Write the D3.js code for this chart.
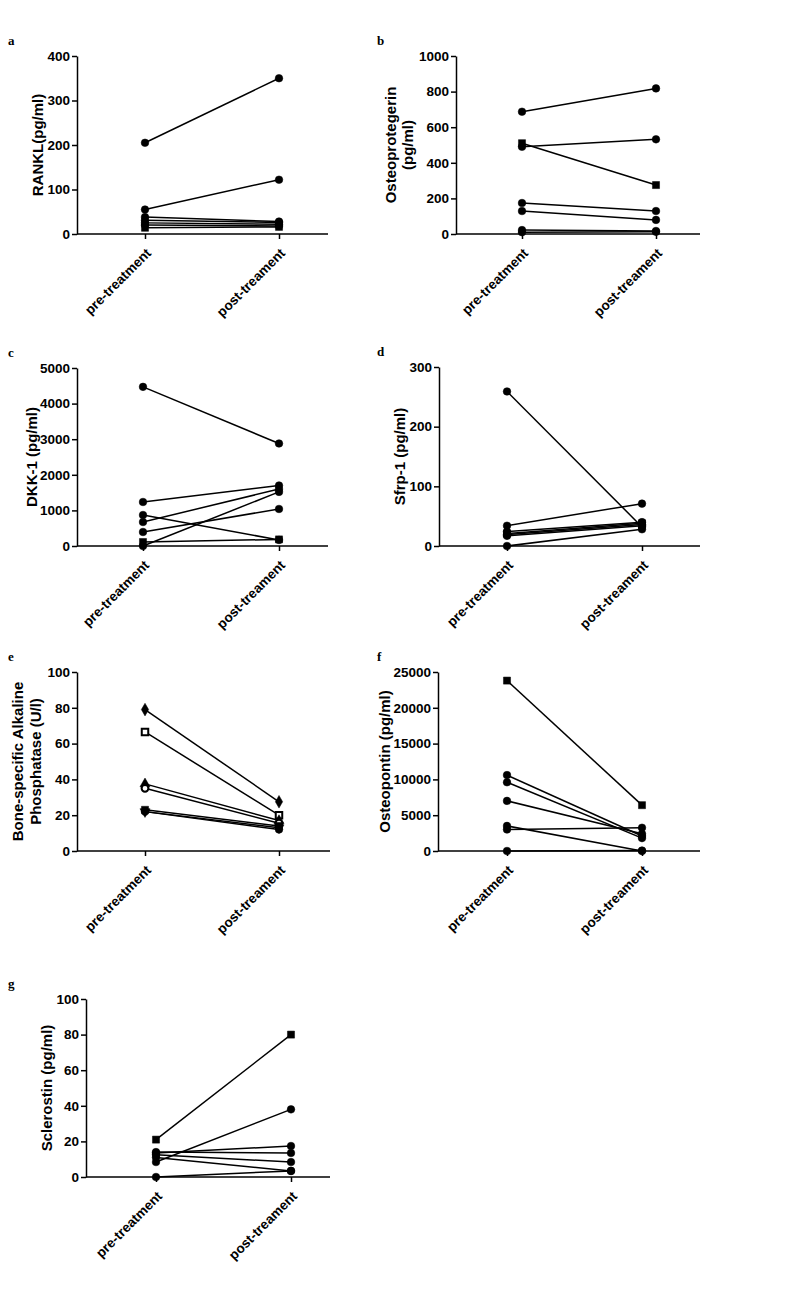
<!DOCTYPE html>
<html><head><meta charset="utf-8">
<script src="https://cdn.jsdelivr.net/npm/d3@7"></script>
<style>
body{margin:0;background:#fff}
text{font-family:"Liberation Sans",Arial,sans-serif;font-weight:bold;fill:#000}
</style>
</head><body>
<svg id="chart" width="800" height="1310"></svg>
<script>
// ---------- data ----------
const categories = ["pre-treatment", "post-treament"];

const ranklPre  = [205, 55, 38, 31, 25, 20, 14];
const ranklPost = [350, 122, 28, 26, 22, 18, 16];
const ranklShapes = ["circle","circle","circle","circle","circle","circle","square"];
const ranklTicks = [0, 100, 200, 300, 400];

const opgPre  = [687, 510, 490, 174, 129, 22, 10];
const opgPost = [818, 275, 532, 129, 79, 17, 12];
const opgShapes = ["circle","square","circle","circle","circle","circle","circle"];
const opgTicks = [0, 200, 400, 600, 800, 1000];

const dkkPre  = [4470, 1236, 870, 674, 393, 112, 0];
const dkkPost = [2880, 1700, 170, 1600, 1040, 185, 1520];
const dkkShapes = ["circle","circle","circle","circle","circle","square","circle"];
const dkkTicks = [0, 1000, 2000, 3000, 4000, 5000];

const sfrpPre  = [259, 34, 24, 21, 19, 17, 0];
const sfrpPost = [32, 71, 40, 38, 36, 34, 28];
const sfrpShapes = ["circle","circle","circle","square","circle","circle","circle"];
const sfrpTicks = [0, 100, 200, 300];

const bsapPre  = [79, 66.5, 37.5, 35, 23, 22, 22];
const bsapPost = [27.5, 20, 17, 15.5, 14, 13, 12];
const bsapShapes = ["diamond","opensquare","triangle","opencircle","square","triangledown","circle"];
const bsapTicks = [0, 20, 40, 60, 80, 100];

const opnPre  = [23800, 10600, 9600, 7000, 3500, 3000, 0];
const opnPost = [6400, 2100, 1800, 2400, 0, 3250, 60];
const opnShapes = ["square","circle","circle","circle","circle","circle","circle"];
const opnTicks = [0, 5000, 10000, 15000, 20000, 25000];

const sostPre  = [21, 8.4, 13.5, 14, 12.5, 11, 0];
const sostPost = [80, 38, 17.4, 13.5, 8.4, 3.4, 3.4];
const sostShapes = ["square","circle","circle","circle","circle","circle","circle"];
const sostTicks = [0, 20, 40, 60, 80, 100];

// ---------- layout ----------
const panels = [
  {label:"a", lx:8,   title:["RANKL(pg/ml)"], tx:[38], ax:77, top:56, bottom:234, px:145, qx:279, ex:328, pre:ranklPre, post:ranklPost, shapes:ranklShapes, ticks:ranklTicks},
  {label:"b", lx:377, title:["Osteoprotegerin","(pg/ml)"], tx:[391,408], ax:456, top:56, bottom:234, px:522, qx:656, ex:700, pre:opgPre, post:opgPost, shapes:opgShapes, ticks:opgTicks},
  {label:"c", lx:8,   title:["DKK-1 (pg/ml)"], tx:[32], ax:77, top:368, bottom:546, px:143, qx:279, ex:328, pre:dkkPre, post:dkkPost, shapes:dkkShapes, ticks:dkkTicks},
  {label:"d", lx:377, title:["Sfrp-1 (pg/ml)"], tx:[400], ax:439, top:367, bottom:546, px:507, qx:642, ex:700, pre:sfrpPre, post:sfrpPost, shapes:sfrpShapes, ticks:sfrpTicks},
  {label:"e", lx:8,   title:["Bone-specific Alkaline","Phosphatase (U/l)"], tx:[18,36], ax:77, top:672, bottom:851, px:145, qx:279, ex:330, pre:bsapPre, post:bsapPost, shapes:bsapShapes, ticks:bsapTicks},
  {label:"f", lx:377, title:["Osteopontin (pg/ml)"], tx:[385], ax:438, top:672, bottom:851, px:507, qx:642, ex:700, pre:opnPre, post:opnPost, shapes:opnShapes, ticks:opnTicks},
  {label:"g", lx:8,   title:["Sclerostin (pg/ml)"], tx:[47], ax:86, top:999, bottom:1177, px:156, qx:291, ex:330, pre:sostPre, post:sostPost, shapes:sostShapes, ticks:sostTicks}
];

const svg = d3.select("#chart");

function symbolFor(s){
  const map = {circle:d3.symbolCircle, opencircle:d3.symbolCircle, square:d3.symbolSquare, opensquare:d3.symbolSquare,
               diamond:d3.symbolDiamond, triangle:d3.symbolTriangle, triangledown:d3.symbolTriangle};
  const size = {circle:46, opencircle:36, square:50, opensquare:42, diamond:46, triangle:44, triangledown:44};
  return d3.symbol().type(map[s]).size(size[s])();
}

panels.forEach(p => {
  const g = svg.append("g");
  const x = d3.scalePoint().domain(categories).range([p.px, p.qx]);
  const y = d3.scaleLinear().domain([0, d3.max(p.ticks)]).range([p.bottom, p.top]);

  // panel letter
  g.append("text").attr("x", p.lx).attr("y", p.top - 11)
    .style("font-family", '"Liberation Serif", "Times New Roman", serif')
    .style("font-size", "13px").text(p.label);

  // y axis
  const yAxis = d3.axisLeft(y).tickValues(p.ticks).tickSize(5).tickSizeOuter(0).tickPadding(2).tickFormat(d3.format("d"));
  const ya = g.append("g").attr("transform", `translate(${p.ax},0)`).call(yAxis);
  ya.select(".domain").attr("stroke", "#000").attr("stroke-width", 1.5);
  ya.selectAll(".tick line").attr("stroke", "#000").attr("stroke-width", 1.5);
  ya.selectAll(".tick text").style("font-size", "13.5px").style("font-family", '"Liberation Sans", Arial, sans-serif').style("font-weight","bold");

  // x axis
  const xAxis = d3.axisBottom(x).tickSize(5).tickSizeOuter(0).tickFormat(() => "");
  const xa = g.append("g").attr("transform", `translate(0,${p.bottom})`).call(xAxis);
  xa.select(".domain").remove();
  xa.selectAll(".tick line").attr("stroke", "#000").attr("stroke-width", 1.5);
  g.append("line").attr("x1", p.ax).attr("x2", p.ex).attr("y1", p.bottom).attr("y2", p.bottom)
    .attr("stroke", "#000").attr("stroke-width", 1.5);
  categories.forEach(c => {
    g.append("text")
      .attr("transform", `translate(${x(c) + 7},${p.bottom + 20}) rotate(-45)`)
      .attr("text-anchor", "end")
      .style("font-size", "13.5px")
      .text(c);
  });

  // y title
  p.title.forEach((t, i) => {
    g.append("text")
      .attr("transform", `translate(${p.tx[i]},${(p.top + p.bottom) / 2}) rotate(-90)`)
      .attr("text-anchor", "middle").attr("dy", "0.36em")
      .style("font-size", "15px")
      .text(t);
  });

  // subject lines
  const line = d3.line().x(d => x(d[0])).y(d => y(d[1]));
  p.pre.forEach((v, i) => {
    g.append("path").datum([[categories[0], v], [categories[1], p.post[i]]])
      .attr("d", line).attr("fill", "none").attr("stroke", "#000").attr("stroke-width", 1.5);
  });
  // markers
  p.pre.forEach((v, i) => {
    const s = p.shapes[i];
    [[categories[0], v], [categories[1], p.post[i]]].forEach(d => {
      let rot = s === "triangledown" ? " rotate(180)" : "";
      g.append("path").attr("d", symbolFor(s))
        .attr("transform", `translate(${x(d[0])},${y(d[1])})${rot}`)
        .attr("fill", s.startsWith("open") ? "#fff" : "#000")
        .attr("stroke", "#000").attr("stroke-width", s.startsWith("open") ? 2 : 0.5);
    });
  });
});
</script>
</body></html>
